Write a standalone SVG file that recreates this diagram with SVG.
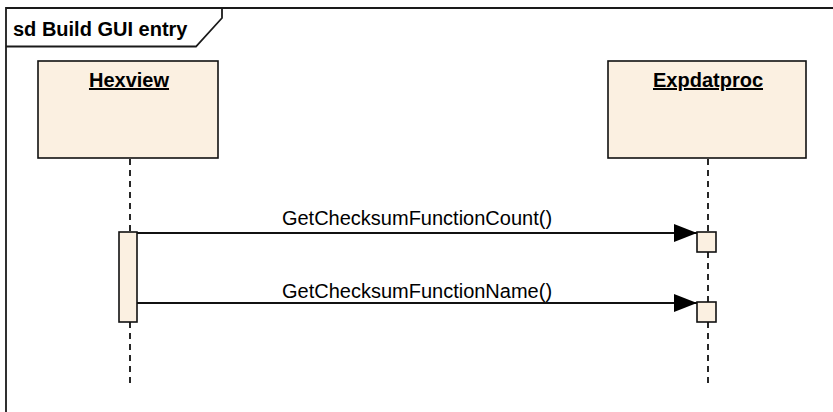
<svg xmlns="http://www.w3.org/2000/svg" width="833" height="412" viewBox="0 0 833 412">
<style>
.frame{fill:none;stroke:#1a1a1a;stroke-width:1.8}
.box{fill:#FBF0E1;stroke:#111;stroke-width:1.6}
.life{stroke:#111;stroke-width:1.8;stroke-dasharray:6 5;fill:none}
.msg{stroke:#111;stroke-width:1.8;fill:none}
.title{font-family:"Liberation Sans",Arial,sans-serif;font-weight:bold;font-size:20px;fill:#000}
.name{font-family:"Liberation Sans",Arial,sans-serif;font-weight:bold;font-size:20px;fill:#000;text-decoration:underline}
.label{font-family:"Liberation Sans",Arial,sans-serif;font-size:20px;fill:#000}
</style>
<defs>
<marker id="arrow" markerUnits="userSpaceOnUse" markerWidth="24" markerHeight="20" refX="23" refY="9" orient="auto">
<path d="M0,0 L23,9 L0,18 Z" fill="#000"/>
</marker>
</defs>
<rect width="833" height="412" fill="#fff"/>
<g id="frame">
<path class="frame" d="M6,412 V8 H833"/>
<path class="frame" d="M6,46.5 H196 L222,18 V8"/>
<text class="title" x="13" y="36">sd Build GUI entry</text>
</g>
<g id="connectors">
<line class="life" x1="130" y1="159" x2="130" y2="232"/>
<line class="life" x1="130" y1="322" x2="130" y2="384"/>
<line class="life" x1="708" y1="159" x2="708" y2="232"/>
<line class="life" x1="708" y1="252" x2="708" y2="302"/>
<line class="life" x1="708" y1="322" x2="708" y2="384"/>
<line class="msg" x1="137" y1="233" x2="697" y2="233" marker-end="url(#arrow)"/>
<text class="label" x="417" y="225" text-anchor="middle">GetChecksumFunctionCount()</text>
<line class="msg" x1="137" y1="303" x2="697" y2="303" marker-end="url(#arrow)"/>
<text class="label" x="417" y="298" text-anchor="middle">GetChecksumFunctionName()</text>
</g>
<g id="hexview">
<rect class="box" x="38" y="61" width="180" height="97"/>
<text class="name" x="129" y="87" text-anchor="middle">Hexview</text>
<rect class="box" x="119" y="232" width="18" height="90"/>
</g>
<g id="expdatproc">
<rect class="box" x="608" y="61" width="198" height="97"/>
<text class="name" x="708" y="87" text-anchor="middle">Expdatproc</text>
<rect class="box" x="697" y="232" width="19" height="20"/>
<rect class="box" x="697" y="302" width="19" height="20"/>
</g>
</svg>
